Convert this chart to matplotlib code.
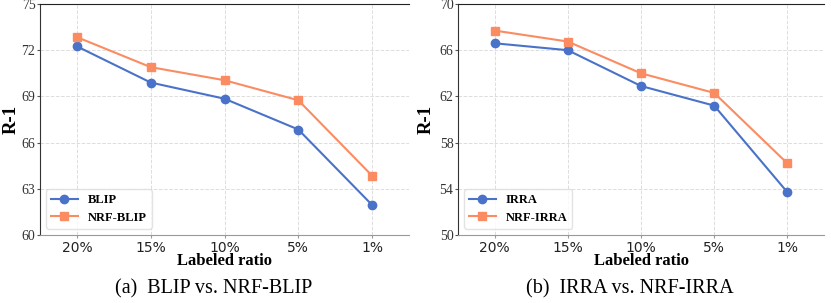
import numpy as np
import matplotlib.pyplot as plt

ratios = ['20%', '15%', '10%', '5%', '1%']

blip = [72.25, 69.9, 68.85, 66.85, 61.95]
nrf_blip = [72.85, 70.9, 70.05, 68.75, 63.85]

irra = [66.6, 66.0, 62.9, 61.2, 53.7]
nrf_irra = [67.7, 66.75, 64.0, 62.3, 56.2]

blue = '#4a72c8'
orange = '#fb8c62'
serif = ['Liberation Serif', 'DejaVu Serif']

fig = plt.figure(figsize=(8.31, 3.03), dpi=100)
ax1 = fig.add_axes([40/831, 1 - 235/303, 369/831, 231/303])
ax2 = fig.add_axes([458/831, 1 - 235/303, 366/831, 231/303])

panels = [
    (ax1, blip, nrf_blip, 'BLIP', 'NRF-BLIP', (60, 75), np.arange(60, 76, 3), '(a)  BLIP vs. NRF-BLIP', -0.056),
    (ax2, irra, nrf_irra, 'IRRA', 'NRF-IRRA', (50, 70), np.arange(50, 71, 4), '(b)  IRRA vs. NRF-IRRA', -0.064),
]

x = np.arange(len(ratios))
for ax, base, ours, name_b, name_o, ylim, yt, cap, ylab_x in panels:
    ax.plot(x, base, color=blue, marker='o', markersize=6, linewidth=1.5, label=name_b)
    ax.plot(x, ours, color=orange, marker='s', markersize=6, linewidth=1.5, label=name_o)
    ax.set_xlim(-0.5, 4.5)
    ax.set_ylim(*ylim)
    ax.set_xticks(x)
    ax.set_xticklabels(ratios, fontsize=10, color='#222222')
    ax.set_yticks(yt)
    ax.set_yticklabels([str(v) for v in yt], family=serif, fontsize=10, color='#333333')
    ax.grid(True, linestyle='--', color='#dddddd', linewidth=0.7)
    ax.set_axisbelow(True)
    ax.spines['right'].set_visible(False)
    ax.spines['bottom'].set_color('#999999')
    ax.spines['left'].set_color('#333333')
    ax.spines['top'].set_color('#222222')
    ax.tick_params(axis='x', colors='#999999', labelcolor='#222222', length=2.5, pad=1.5)
    ax.tick_params(axis='y', colors='#555555', labelcolor='#333333', length=2.5, pad=0.8)
    ax.set_xlabel('Labeled ratio', family=serif, fontweight='bold', fontsize=12, labelpad=-1)
    ax.set_ylabel('R-1', family=serif, fontweight='bold', fontsize=13.5)
    ax.yaxis.set_label_coords(ylab_x, 0.5)
    leg = ax.legend(loc='lower left', prop={'family': serif, 'weight': 'bold', 'size': 9},
                    frameon=True, borderpad=0.4, labelspacing=0.45, handlelength=2.1)
    leg.get_frame().set_edgecolor('#dddddd')
    ax.text(0.47, -0.235, cap, transform=ax.transAxes, ha='center', va='center',
            family=serif, fontsize=14.5)

fig.savefig('out.png', dpi=100)
